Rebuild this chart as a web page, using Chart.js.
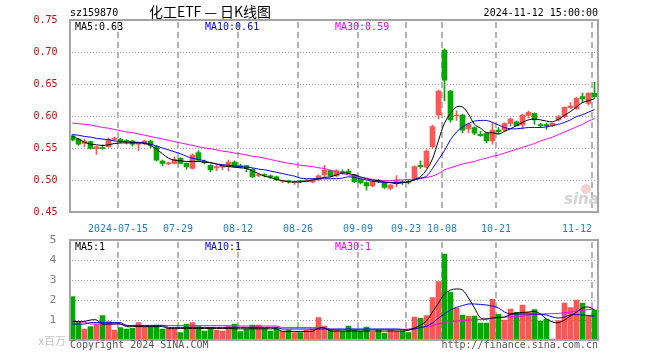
<!DOCTYPE html>
<html><head><meta charset="utf-8">
<script src="https://cdn.jsdelivr.net/npm/chart.js@4.4.1/dist/chart.umd.min.js"></script>
<style>
html,body{margin:0;padding:0;background:#fff;}
#wrap{position:relative;width:660px;height:360px;overflow:hidden;background:#fff;}
canvas{position:absolute;left:0;}
#main{top:0;}
#vol{top:225px;}
</style></head><body>
<div id="wrap"><canvas id="main" width="660" height="232"></canvas><canvas id="vol" width="660" height="135"></canvas></div>
<script>
const dates = ['2024-07-03','2024-07-04','2024-07-05','2024-07-08','2024-07-09','2024-07-10','2024-07-11','2024-07-12','2024-07-15','2024-07-16','2024-07-17','2024-07-18','2024-07-19','2024-07-22','2024-07-23','2024-07-24','2024-07-25','2024-07-26','2024-07-29','2024-07-30','2024-07-31',
'2024-08-01','2024-08-02','2024-08-05','2024-08-06','2024-08-07','2024-08-08','2024-08-09','2024-08-12','2024-08-13','2024-08-14','2024-08-15','2024-08-16','2024-08-19','2024-08-20','2024-08-21','2024-08-22','2024-08-23','2024-08-26','2024-08-27','2024-08-28','2024-08-29','2024-08-30',
'2024-09-02','2024-09-03','2024-09-04','2024-09-05','2024-09-06','2024-09-09','2024-09-10','2024-09-11','2024-09-12','2024-09-13','2024-09-18','2024-09-19','2024-09-20','2024-09-23','2024-09-24','2024-09-25','2024-09-26','2024-09-27','2024-09-30',
'2024-10-08','2024-10-09','2024-10-10','2024-10-11','2024-10-14','2024-10-15','2024-10-16','2024-10-17','2024-10-18','2024-10-21','2024-10-22','2024-10-23','2024-10-24','2024-10-25','2024-10-28','2024-10-29','2024-10-30','2024-10-31',
'2024-11-01','2024-11-04','2024-11-05','2024-11-06','2024-11-07','2024-11-08','2024-11-11','2024-11-12'];

const open = [.569,.564,.557,.560,.549,.5505,.552,.5635,.5635,.5615,
.561,.556,.558,.561,.552,.5297,.525,.526,.534,.526,
.518,.543,.528,.523,.519,.520,.521,.528,.5225,.5224,
.5167,.507,.508,.506,.505,.498,.4985,.496,.498,.4975,
.4965,.500,.508,.5146,.5065,.513,.514,.508,.501,.4958,
.4906,.500,.495,.487,.495,.4974,.4978,.5026,.523,.520,
.552,.6016,.703,.639,.600,.6016,.580,.5818,.5714,.573,
.561,.578,.578,.5885,.591,.5859,.601,.6042,.5865,.5855,
.5854,.5938,.599,.613,.611,.6302,.6198,.6354];
const high = [.571,.565,.564,.561,.553,.555,.566,.567,.565,.563,
.562,.559,.5625,.562,.554,.531,.528,.536,.535,.527,
.5408,.546,.531,.524,.523,.523,.531,.530,.525,.523,
.518,.5095,.510,.508,.506,.500,.500,.498,.499,.501,
.501,.508,.523,.516,.516,.516,.517,.509,.502,.497,
.499,.501,.496,.4935,.507,.499,.500,.522,.530,.547,
.586,.6406,.705,.640,.608,.603,.5895,.583,.576,.574,
.5895,.582,.5895,.597,.5925,.603,.6075,.605,.589,.589,
.5895,.601,.6145,.621,.6296,.6359,.6365,.6526];
const low = [.561,.554,.552,.548,.540,.548,.551,.562,.558,.556,
.553,.5458,.555,.5505,.5295,.522,.524,.525,.525,.517,
.517,.530,.525,.5125,.5146,.516,.514,.520,.519,.513,
.504,.505,.505,.502,.499,.496,.495,.493,.496,.497,
.4955,.4985,.505,.505,.505,.509,.510,.496,.494,.484,
.489,.496,.487,.4844,.489,.493,.494,.502,.518,.519,
.5495,.5953,.6234,.5905,.593,.5734,.5734,.571,.568,.5578,
.556,.5715,.576,.584,.584,.580,.597,.587,.582,.579,
.5833,.592,.597,.6115,.6105,.6214,.617,.628];
const close = [.5625,.556,.561,.5495,.552,.549,.5636,.5655,.560,.560,
.556,.558,.561,.5545,.531,.526,.527,.532,.526,.5205,
.539,.531,.527,.5156,.521,.522,.528,.521,.5205,.518,
.505,.508,.507,.505,.500,.499,.4975,.4968,.4975,.500,
.500,.5067,.5156,.5065,.5146,.5115,.5115,.4974,.4958,.4906,
.4974,.4974,.4886,.4922,.499,.4958,.4965,.521,.521,.5453,
.5833,.639,.656,.594,.601,.578,.587,.573,.5693,.561,
.578,.5755,.5885,.5953,.5848,.6016,.6057,.5938,.5849,.5849,
.5885,.599,.6135,.6156,.6276,.6266,.6354,.6302];
const volume = [2.17,.92,.55,.67,.78,1.22,.92,.5,.62,.55,
.58,.87,.67,.7,.75,.55,.58,.55,.37,.8,
.87,.67,.45,.63,.5,.45,.67,.8,.42,.55,
.75,.75,.58,.45,.62,.45,.5,.37,.37,.5,
.55,1.12,.7,.53,.53,.45,.7,.53,.45,.65,
.38,.5,.35,.5,.45,.45,.37,1.15,1.08,1.22,
2.12,2.92,4.3,2.4,1.6,1.25,1.2,1.2,.85,.85,
2.03,1.28,1.0,1.55,1.38,1.75,1.38,1.52,.95,1.05,
.04,.97,1.85,1.62,2.0,1.85,1.22,1.5];

const ma5 = [.568,.564,.559,.556,.555,.554,.555,.557,.558,.558,
.558,.558,.557,.554,.548,.541,.534,.531,.530,.529,
.529,.529,.528,.527,.525,.522,.521,.520,.519,.518,
.514,.510,.506,.504,.501,.499,.497,.497,.497,.498,
.500,.502,.504,.505,.508,.511,.510,.508,.505,.502,
.500,.499,.497,.496,.494,.496,.497,.501,.505,.516,
.533,.562,.589,.604,.614,.614,.603,.587,.581,.574,
.574,.572,.576,.580,.585,.590,.594,.595,.594,.592,
.591,.595,.601,.607,.614,.621,.624,.627];
const ma10 = [.571,.570,.568,.567,.565,.564,.563,.561,.560,.560,
.559,.559,.558,.556,.553,.550,.547,.544,.541,.537,
.534,.532,.530,.527,.525,.524,.523,.522,.521,.520,
.519,.517,.516,.514,.512,.510,.508,.506,.503,.502,
.502,.502,.502,.502,.502,.503,.505,.504,.502,.500,
.498,.497,.496,.496,.496,.496,.497,.500,.503,.506,
.518,.532,.546,.563,.575,.583,.588,.592,.593,.593,
.590,.586,.582,.580,.580,.581,.582,.582,.582,.583,
.585,.587,.590,.594,.599,.602,.606,.610];
const ma30 = [.589,.588,.587,.586,.584,.582,.581,.579,.577,.575,
.574,.572,.570,.568,.566,.564,.562,.560,.558,.556,
.554,.552,.550,.549,.547,.545,.544,.542,.541,.539,
.537,.536,.534,.532,.530,.528,.526,.525,.523,.522,
.521,.519,.518,.515,.513,.510,.508,.506,.504,.503,
.501,.499,.499,.499,.500,.500,.501,.501,.502,.504,
.506,.510,.516,.519,.522,.525,.527,.529,.532,.534,
.537,.539,.542,.545,.548,.551,.554,.557,.561,.564,
.567,.571,.575,.579,.583,.587,.592,.596];

const vma5 = [.93,.93,.93,1.0,1.0,.8,.8,.8,.8,.67,
.67,.67,.67,.67,.67,.67,.58,.58,.58,.58,
.58,.58,.58,.58,.58,.58,.58,.56,.56,.56,
.56,.56,.56,.56,.56,.43,.43,.43,.43,.43,
.43,.6,.6,.45,.45,.45,.45,.45,.45,.45,
.45,.45,.45,.45,.45,.45,.5,.6,.75,.95,
1.4,1.85,2.3,2.5,2.55,2.5,2.1,1.6,1.1,1.05,
1.1,1.13,1.15,1.28,1.35,1.38,1.4,1.43,1.3,1.05,
.9,.87,1.0,1.2,1.4,1.6,1.65,1.5];
const vma10 = [.8,.8,.8,.87,.87,.87,.87,.87,.87,.73,
.73,.73,.73,.73,.73,.73,.63,.63,.63,.63,
.63,.63,.63,.63,.63,.63,.63,.63,.63,.63,
.63,.63,.63,.63,.63,.55,.55,.55,.55,.55,
.55,.55,.55,.55,.55,.55,.55,.55,.55,.55,
.55,.55,.55,.55,.55,.53,.5,.55,.62,.7,
.85,1.1,1.3,1.5,1.63,1.72,1.8,1.8,1.78,1.75,
1.7,1.6,1.4,1.3,1.3,1.3,1.3,1.3,1.28,1.25,
1.15,1.1,1.15,1.25,1.27,1.25,1.22,1.2];
const vma30 = [.97,.9,.9,.8,.8,.8,.8,.8,.8,.72,
.72,.72,.72,.72,.72,.72,.72,.72,.72,.72,
.72,.72,.72,.72,.72,.72,.72,.7,.7,.7,
.7,.7,.7,.7,.7,.62,.62,.62,.62,.62,
.62,.62,.62,.53,.53,.53,.53,.53,.53,.53,
.53,.53,.53,.53,.53,.53,.55,.58,.62,.67,
.72,.8,.87,.92,.95,.98,1.0,1.02,1.03,1.05,
1.1,1.12,1.14,1.16,1.18,1.2,1.24,1.28,1.3,1.31,
1.32,1.33,1.36,1.4,1.45,1.48,1.52,1.55];

const dateTicks = ['2024-07-15','07-29','08-12','08-26','09-09','09-23','10-08','10-21','11-12'];
const priceTicks = [0.45,0.50,0.55,0.60,0.65,0.70,0.75];
const volTicks = [0,1,2,3,4,5];
const mainLegend = ['MA5:0.63','MA10:0.61','MA30:0.59'];
const volLegend = ['MA5:1','MA10:1','MA30:1'];
const codeText = 'sz159870';
const titleText = '化工ETF — 日K线图';
const stampText = '2024-11-12 15:00:00';

const MONO = '"DejaVu Sans Mono", "Liberation Mono", monospace';
const UP = '#ff5555', DOWN = '#00aa00';
const LINE_COLORS = ['#000000', '#0000ff', '#ff00ff'];
const candleColor = close.map((c, i) => c >= open[i] ? UP : DOWN);
const bodies = open.map((o, i) => [o, close[i]]);
const wicks = low.map((l, i) => [l, high[i]]);
const tickIndex = {};
dateTicks.forEach(t => { const full = t.length === 5 ? '2024-' + t : t; tickIndex[dates.indexOf(full)] = t; });
const lastIdx = dates.length - 1;

function lineDs(data, color) {
  return {type: 'line', data, borderColor: color, backgroundColor: color, borderWidth: 1,
    pointRadius: 0, tension: 0.35, fill: false, order: 0};
}
function xScale(showLabels) {
  return {
    offset: true,
    grid: {display: false},
    border: {display: false},
    ticks: {autoSkip: false, maxRotation: 0, minRotation: 0, padding: 3, labelOffset: -2.5, color: '#1f7fd2',
      font: {family: MONO, size: 10},
      // the last label is kept inside the frame, as in the original
      callback: (v, i) => !showLabels ? '' : (tickIndex[i] ? (i === lastIdx ? tickIndex[i] + '     ' : tickIndex[i]) : '')},
    afterFit: s => { s.height = 20; }
  };
}
function yScale(ticks, color, font, fmt, pad) {
  return {
    min: ticks[0], max: ticks[ticks.length - 1],
    afterBuildTicks: s => { s.ticks = ticks.map(v => ({value: v})); },
    grid: {display: false},
    border: {display: false},
    ticks: {padding: pad, color, font, callback: fmt},
    afterFit: s => { s.width = 69.5; }
  };
}
// grid drawn from the library's scales (positions come from getPixelForValue)
function drawGrid(chart, yTicks) {
  const {ctx, chartArea: a, scales} = chart;
  const top = Math.round(a.top), bottom = Math.round(a.bottom);
  const left = Math.round(a.left), right = Math.round(a.right);
  ctx.save();
  ctx.fillStyle = '#a0a0a0';
  yTicks.slice(1, -1).forEach(v => {
    const y = Math.round(scales.y.getPixelForValue(v));
    for (let x = left + 2; x < right - 1; x += 3) ctx.fillRect(x, y, 1, 1);
  });
  ctx.fillStyle = '#b4b4b4';
  Object.keys(tickIndex).forEach(k => {
    const x = Math.round(scales.x.getPixelForValue(Number(k)) - 2.5);
    for (let y = top + 2; y < bottom - 1; y += 10) ctx.fillRect(x - 1, y, 2, Math.min(6, bottom - 1 - y));
  });
  ctx.restore();
}
function frame(chart) {
  const {ctx, chartArea: a} = chart;
  ctx.save();
  ctx.strokeStyle = '#a4a4a4';
  ctx.lineWidth = 2;
  const l = Math.round(a.left), r = Math.round(a.right), t = Math.round(a.top), b = Math.round(a.bottom);
  ctx.strokeRect(l, t, r - l, b - t);
  ctx.restore();
}
function legend(ctx, items, y) {
  const xs = [75, 205, 335];
  ctx.font = '10px ' + MONO;
  ctx.textAlign = 'left';
  ctx.textBaseline = 'middle';
  items.forEach((s, i) => { ctx.fillStyle = LINE_COLORS[i]; ctx.fillText(s, xs[i], y); });
}

const mainPlugin = {
  id: 'mainDecor',
  beforeDatasetsDraw(chart) {
    drawGrid(chart, priceTicks);
    const ctx = chart.ctx;
    ctx.save();
    ctx.fillStyle = 'rgba(236,190,190,0.7)';
    ctx.beginPath(); ctx.arc(586, 189, 5, 0, Math.PI * 2); ctx.fill();
    ctx.fillStyle = 'rgba(200,200,200,0.8)';
    ctx.font = 'italic bold 15px "DejaVu Sans"';
    ctx.textAlign = 'left'; ctx.textBaseline = 'alphabetic';
    ctx.fillText('sina', 564, 204);
    ctx.restore();
  },
  afterDraw(chart) {
    frame(chart);
    const ctx = chart.ctx;
    ctx.save();
    ctx.textBaseline = 'middle';
    ctx.fillStyle = '#000';
    ctx.font = '10px ' + MONO;
    ctx.textAlign = 'left'; ctx.fillText(codeText, 70, 13);
    ctx.textAlign = 'right'; ctx.fillText(stampText, 598, 13);
    ctx.font = '14px "Noto Sans CJK SC"';
    ctx.textAlign = 'center'; ctx.fillText(titleText, 210, 12);
    legend(ctx, mainLegend, 27);
    ctx.restore();
  }
};
const volPlugin = {
  id: 'volDecor',
  beforeDatasetsDraw(chart) { drawGrid(chart, volTicks); },
  afterDraw(chart) {
    frame(chart);
    const ctx = chart.ctx;
    ctx.save();
    legend(ctx, volLegend, 22);
    ctx.textBaseline = 'middle';
    ctx.fillStyle = '#c4c4c4';
    ctx.font = '11px "Noto Sans CJK SC"';
    ctx.textAlign = 'right'; ctx.fillText('x百万', 66, 116);
    ctx.fillStyle = '#555';
    ctx.font = '10px ' + MONO;
    ctx.textAlign = 'left'; ctx.fillText('Copyright 2024 SINA.COM', 70, 120);
    ctx.textAlign = 'right'; ctx.fillText('http://finance.sina.com.cn', 598, 120);
    ctx.restore();
  }
};

new Chart(document.getElementById('main'), {
  type: 'bar',
  data: {
    labels: dates,
    datasets: [
      lineDs(ma5, LINE_COLORS[0]), lineDs(ma10, LINE_COLORS[1]), lineDs(ma30, LINE_COLORS[2]),
      {data: bodies, backgroundColor: candleColor, barThickness: 5, grouped: false, minBarLength: 1, order: 1},
      {data: wicks, backgroundColor: candleColor, barThickness: 1, grouped: false, minBarLength: 1, order: 2}
    ]
  },
  options: {
    responsive: false, animation: false, devicePixelRatio: 1,
    layout: {padding: {left: 0, right: 62.5, top: 20, bottom: 0}},
    plugins: {legend: {display: false}, tooltip: {enabled: false}},
    scales: {
      x: xScale(true),
      y: yScale(priceTicks, '#e00000', {family: MONO, size: 10}, v => Number(v).toFixed(2), 4)
    }
  },
  plugins: [mainPlugin]
});

new Chart(document.getElementById('vol'), {
  type: 'bar',
  data: {
    labels: dates,
    datasets: [
      lineDs(vma5, LINE_COLORS[0]), lineDs(vma10, LINE_COLORS[1]), lineDs(vma30, LINE_COLORS[2]),
      {data: volume, backgroundColor: candleColor, barThickness: 5, grouped: false, minBarLength: 1, order: 1}
    ]
  },
  options: {
    responsive: false, animation: false, devicePixelRatio: 1,
    layout: {padding: {left: 0, right: 62.5, top: 15, bottom: 0}},
    plugins: {legend: {display: false}, tooltip: {enabled: false}},
    scales: {
      x: xScale(false),
      y: yScale(volTicks, '#808080', {family: '"DejaVu Sans"', size: 11}, v => v === 0 ? '' : String(v), 5)
    }
  },
  plugins: [volPlugin]
});
</script></body></html>
